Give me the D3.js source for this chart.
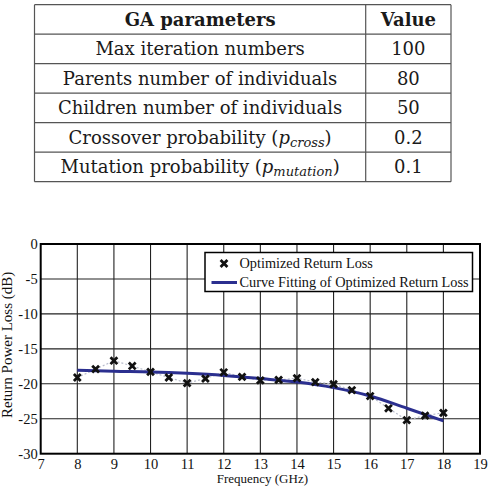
<!DOCTYPE html>
<html><head><meta charset="utf-8">
<script src="https://cdn.jsdelivr.net/npm/d3@7"></script>
<style>html,body{margin:0;padding:0;background:#fff;}svg{display:block;}</style>
</head><body>
<script>
// ---- Table data ----
const tableHeader = ["GA parameters", "Value"];
const paramNames = ["Max iteration numbers", "Parents number of individuals", "Children number of individuals", "Crossover probability", "Mutation probability"];
const paramSubs = [null, null, null, "cross", "mutation"];
const paramValues = ["100", "80", "50", "0.2", "0.1"];

// ---- Chart data ----
const freq = [8, 8.5, 9, 9.5, 10, 10.5, 11, 11.5, 12, 12.5, 13, 13.5, 14, 14.5, 15, 15.5, 16, 16.5, 17, 17.5, 18];
const returnLoss = [-19.1, -17.9, -16.7, -17.45, -18.3, -19.1, -19.9, -19.25, -18.35, -19.0, -19.5, -19.45, -19.2, -19.75, -20.05, -20.9, -21.75, -23.5, -25.2, -24.55, -24.15];
const fitFreq = [8, 9, 10, 11, 12, 13, 14, 15, 16, 17, 18];
const fitValues = [-18.05, -18.2, -18.3, -18.5, -18.8, -19.25, -19.75, -20.55, -21.75, -23.5, -25.3];
const xTicks = [7, 8, 9, 10, 11, 12, 13, 14, 15, 16, 17, 18, 19];
const yTicks = [0, -5, -10, -15, -20, -25, -30];
const legendLabels = ["Optimized Return Loss", "Curve Fitting of Optimized Return Loss"];

const W = 490, H = 486;
const svg = d3.select("body").append("svg").attr("width", W).attr("height", H);
const serif = "'Liberation Serif','Times New Roman',serif";
const tserif = "'DejaVu Serif',serif";

// ---- Table ----
const tLeft = 34.5, tRight = 451, tDiv = 365.7, tTop = 4.7, rowH = 29.5;
const nRows = paramNames.length + 1;
const tg = svg.append("g").attr("font-family", tserif).attr("fill", "#1a1a1a");
const lineCol = "#555";
d3.range(nRows + 1).forEach(i => {
  tg.append("line").attr("x1", tLeft).attr("x2", tRight)
    .attr("y1", tTop + i * rowH).attr("y2", tTop + i * rowH)
    .attr("stroke", lineCol).attr("stroke-width", 1.2);
});
[tLeft, tDiv, tRight].forEach(x => {
  tg.append("line").attr("x1", x).attr("x2", x).attr("y1", tTop).attr("y2", tTop + nRows * rowH)
    .attr("stroke", lineCol).attr("stroke-width", 1.2);
});
const c1 = (tLeft + tDiv) / 2, c2 = (tDiv + tRight) / 2;
const fs = 18;
tg.append("text").attr("x", c1).attr("y", tTop + rowH / 2 + 6.5).attr("text-anchor", "middle")
  .attr("font-size", fs).attr("font-weight", "bold").text(tableHeader[0]);
tg.append("text").attr("x", c2).attr("y", tTop + rowH / 2 + 6.5).attr("text-anchor", "middle")
  .attr("font-size", fs).attr("font-weight", "bold").text(tableHeader[1]);
paramNames.forEach((name, i) => {
  const y = tTop + (i + 1) * rowH + rowH / 2 + 6.5;
  const t = tg.append("text").attr("x", c1).attr("y", y).attr("text-anchor", "middle").attr("font-size", fs);
  if (paramSubs[i]) {
    t.append("tspan").text(name + " (");
    t.append("tspan").attr("font-style", "italic").text("p");
    t.append("tspan").attr("font-style", "italic").attr("font-size", 13).attr("dy", 3).text(paramSubs[i]);
    t.append("tspan").attr("dy", -3).text(")");
  } else {
    t.text(name);
  }
  tg.append("text").attr("x", c2).attr("y", y).attr("text-anchor", "middle").attr("font-size", fs).text(paramValues[i]);
});

// ---- Chart ----
const pL = 40.7, pR = 480, pT = 244, pB = 453.7;
const x = d3.scaleLinear().domain([7, 19]).range([pL, pR]);
const y = d3.scaleLinear().domain([-30, 0]).range([pB, pT]);
const cg = svg.append("g");

cg.append("g").selectAll("line").data(xTicks.slice(1, -1)).join("line")
  .attr("x1", d => x(d)).attr("x2", d => x(d)).attr("y1", pT).attr("y2", pB)
  .attr("stroke", "#222").attr("stroke-width", 1.1);
cg.append("g").selectAll("line").data(yTicks.slice(1, -1)).join("line")
  .attr("x1", pL).attr("x2", pR).attr("y1", d => y(d)).attr("y2", d => y(d))
  .attr("stroke", "#222").attr("stroke-width", 1.1);

const xAxis = cg.append("g").attr("transform", `translate(0,${pB})`)
  .call(d3.axisBottom(x).tickValues(xTicks).tickSize(0).tickPadding(5).tickFormat(d3.format("d")));
const yAxis = cg.append("g").attr("transform", `translate(${pL},0)`)
  .call(d3.axisLeft(y).tickValues(yTicks).tickSize(0).tickPadding(3).tickFormat(d => d === 0 ? "0" : "-" + Math.abs(d)));
[xAxis, yAxis].forEach(a => {
  a.select(".domain").remove();
  a.selectAll("text").attr("font-family", serif).attr("font-size", 14.5).attr("fill", "#111");
});

const line = d3.line().x((d, i) => x(freq[i])).y(d => y(d));
cg.append("path").datum(returnLoss).attr("d", line).attr("fill", "none")
  .attr("stroke", "#b8bccc").attr("stroke-width", 1.2).attr("stroke-dasharray", "2,2");

const fitLine = d3.line().x((d, i) => x(fitFreq[i])).y(d => y(d)).curve(d3.curveMonotoneX);
cg.append("path").datum(fitValues).attr("d", fitLine).attr("fill", "none")
  .attr("stroke", "#2b2f8f").attr("stroke-width", 3);

const ms = 3.4;
const mk = cg.append("g");
returnLoss.forEach((v, i) => {
  const cx = x(freq[i]), cy = y(v);
  mk.append("path").attr("d", `M${cx - ms},${cy - ms}L${cx + ms},${cy + ms}M${cx - ms},${cy + ms}L${cx + ms},${cy - ms}`)
    .attr("stroke", "#111").attr("stroke-width", 2.8);
});

cg.append("rect").attr("x", pL).attr("y", pT).attr("width", pR - pL).attr("height", pB - pT)
  .attr("fill", "none").attr("stroke", "#000").attr("stroke-width", 2);

const lg = cg.append("g");
lg.append("rect").attr("x", 205).attr("y", 252.5).attr("width", 267.5).attr("height", 39)
  .attr("fill", "#fff").attr("stroke", "#000").attr("stroke-width", 1.5);
const lx = 224, ly1 = 263.5, ly2 = 282.5;
lg.append("path").attr("d", `M${lx - ms},${ly1 - ms}L${lx + ms},${ly1 + ms}M${lx - ms},${ly1 + ms}L${lx + ms},${ly1 - ms}`)
  .attr("stroke", "#111").attr("stroke-width", 2.8);
lg.append("line").attr("x1", 211.5).attr("x2", 237).attr("y1", ly2).attr("y2", ly2)
  .attr("stroke", "#2b2f8f").attr("stroke-width", 3);
lg.selectAll("text").data(legendLabels).join("text")
  .attr("x", 239.5).attr("y", (d, i) => (i ? ly2 : ly1) + 4.8)
  .attr("font-family", serif).attr("font-size", 14.3).attr("fill", "#111").text(d => d);

cg.append("text").attr("x", (pL + pR) / 2 + 2).attr("y", 482.5).attr("text-anchor", "middle")
  .attr("font-family", serif).attr("font-size", 13).attr("fill", "#111").text("Frequency (GHz)");
cg.append("text").attr("transform", `translate(12,${(pT + pB) / 2 - 4}) rotate(-90)`).attr("text-anchor", "middle")
  .attr("font-family", serif).attr("font-size", 15).attr("fill", "#111").text("Return Power Loss (dB)");
</script>
</body></html>
